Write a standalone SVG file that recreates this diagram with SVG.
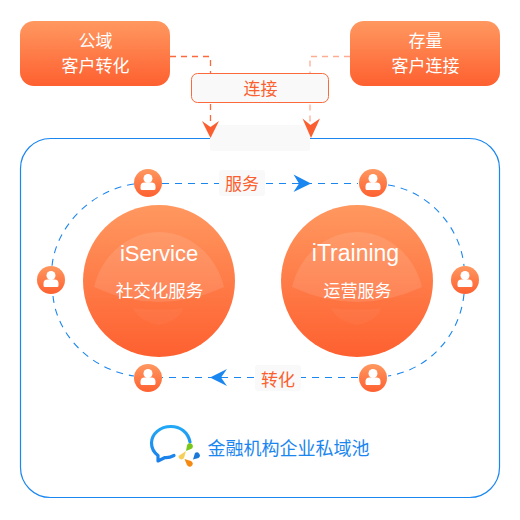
<svg xmlns="http://www.w3.org/2000/svg" width="520" height="520" viewBox="0 0 520 520">
<style>
.t{font-family:"Liberation Sans","Noto Sans CJK SC",sans-serif;text-anchor:middle}
.w{fill:#fff;font-size:17px}
.o{fill:#fb5f2f;font-size:17px}
.d{fill:none;stroke:#1a86f0;stroke-width:1.100;stroke-dasharray:7 6}
.od{fill:none;stroke:#fb6a3c;stroke-width:1.300;stroke-dasharray:6 5}
.p{fill:#fff}
.b{fill:none;stroke-width:3.200;stroke-linecap:round;stroke-linejoin:round}
</style>
<defs>
<linearGradient id="g" x1="0" y1="0" x2="0" y2="1"><stop offset="0" stop-color="#ff9860"/><stop offset="1" stop-color="#fe6030"/></linearGradient>
<linearGradient id="bb" x1="0" y1="0" x2="0" y2="1"><stop offset="0" stop-color="#22a8f6"/><stop offset="1" stop-color="#1a80ea"/></linearGradient>
<g id="u"><circle r="14" fill="url(#g)"/><circle cy="-4.500" r="4.500" class="p"/><path class="p" d="M-7.500 5.500v-2a4 4 0 0 1 4-4h7a4 4 0 0 1 4 4v2a1.500 1.500 0 0 1-1.500 1.500h-12a1.500 1.500 0 0 1-1.500-1.500z"/></g>
<g id="shine"><path d="M-65 6C-58 -24 -32 -49 0 -49C32 -49 58 -24 65 6Q0 36 -65 6Z" fill="#fff" opacity=".11"/><path d="M-26 27Q0 30 24 27Q20 40 0 44Q-20 40 -26 27Z" fill="#fff" opacity=".04"/></g>
</defs>
<rect width="520" height="520" fill="#fff"/>
<rect id="panel" x="20.500" y="138.500" width="479" height="359" rx="30" fill="#fff" stroke="#1a86f0" stroke-width="1.200"/>
<rect x="210" y="125" width="100" height="26" rx="3" fill="#f9f9f9"/>
<g id="connectors">
<path class="od" d="M170 56.500H210.500V125"/>
<path class="od" opacity=".55" d="M350 56.500H310V125"/>
<path d="M202 121L210.500 127L219 121L210.500 138Z" fill="#fb5f2f"/>
<path d="M302.500 118.500L310.500 125L320 118.500L311 138Z" fill="#fb5f2f"/>
<path class="d" d="M162 183.500H358"/>
<path d="M293.500 174.500L311 183.500L293.500 192L299 183.500Z" fill="#1a86f0"/>
<path class="d" d="M358 377.500H162"/>
<path d="M227 369L210 377.500L227 386L221 377.500Z" fill="#1a86f0"/>
<path class="d" d="M134 184C92 190 56 226 52 266"/>
<path class="d" d="M53 296C57 336 92 370 134 376"/>
<path class="d" d="M388 185C428 191 460 226 464 266"/>
<path class="d" d="M464 294C460 336 428 370 388 376"/>
</g>
<g id="link"><rect x="191.500" y="73.500" width="137" height="29" rx="6" fill="#f9f9f9" stroke="#fb6a3c" stroke-width="1"/><text class="t o" x="260.500" y="95">连接</text></g>
<g id="public"><rect x="20" y="21" width="150" height="65" rx="14" fill="url(#g)"/><text class="t w" x="95.500" y="47">公域</text><text class="t w" x="95.500" y="72">客户转化</text></g>
<g id="stock"><rect x="350" y="21" width="150" height="65" rx="14" fill="url(#g)"/><text class="t w" x="425.500" y="47">存量</text><text class="t w" x="425.500" y="72">客户连接</text></g>
<g id="iservice"><circle cx="159" cy="281" r="76" fill="url(#g)"/><use href="#shine" x="159" y="281"/><text class="t" x="159" y="261" fill="#fff" font-size="22">iService</text><text class="t" x="159.500" y="297" fill="#fff" font-size="17.500">社交化服务</text></g>
<g id="itraining"><circle cx="357" cy="281" r="76" fill="url(#g)"/><use href="#shine" x="357" y="281"/><text class="t" x="355.500" y="261" fill="#fff" font-size="23">iTraining</text><text class="t w" x="357.500" y="297">运营服务</text></g>
<g id="service-label"><rect x="219" y="170" width="46" height="26" rx="3" fill="#f9f9f9"/><text class="t o" x="242" y="190">服务</text></g>
<g id="convert-label"><rect x="255" y="365" width="46" height="26" rx="3" fill="#f9f9f9"/><text class="t o" x="278" y="386">转化</text></g>
<g id="user1"><use href="#u" x="148" y="183"/></g>
<g id="user2"><use href="#u" x="373" y="183"/></g>
<g id="user3"><use href="#u" x="51" y="280"/></g>
<g id="user4"><use href="#u" x="465" y="280"/></g>
<g id="user5"><use href="#u" x="148" y="378"/></g>
<g id="user6"><use href="#u" x="373" y="378"/></g>
<g id="brand">
<path class="b" stroke="url(#bb)" d="M190 442C188 432 180 426.500 171 426.500C160 426.500 151.500 434 151.500 443C151.500 448 154 452.500 158 455.500L158 461L165 457.500C168 457.800 171 457 174 455.500"/>
<path d="M186 451L187 445.500A3 3 0 1 1 191 449Z" fill="#7ac71c"/>
<path d="M193 459.500L195 453A3 3 0 1 1 198.500 458Z" fill="#1a78d8"/>
<path d="M184.500 459L191 461A3 3 0 1 1 187 465Z" fill="#f58a12"/>
<path d="M178.500 456L186 451L184 458A3 3 0 0 1 178.500 456Z" fill="#f6cf5a"/>
<text class="t" x="288.500" y="455" fill="#1a86f0" font-size="18">金融机构企业私域池</text>
</g>
</svg>
